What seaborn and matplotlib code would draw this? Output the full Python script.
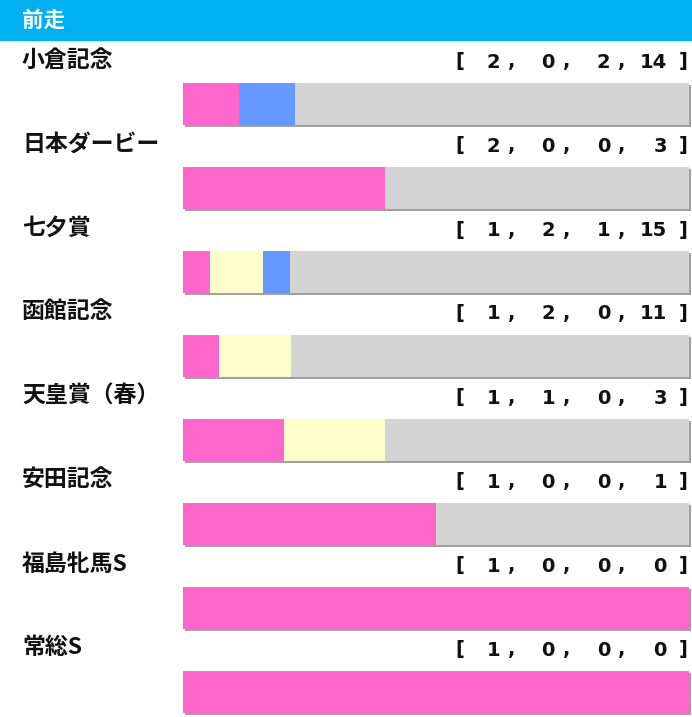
import numpy as np
import pandas as pd
import seaborn as sns
import matplotlib.pyplot as plt
from matplotlib import patheffects as pe

races = ['小倉記念', '日本ダービー', '七夕賞', '函館記念', '天皇賞（春）', '安田記念', '福島牝馬S', '常総S']
first = [2, 2, 1, 1, 1, 1, 1, 1]
second = [0, 0, 2, 2, 1, 0, 0, 0]
third = [2, 0, 1, 0, 0, 0, 0, 0]
other = [14, 3, 15, 11, 3, 1, 0, 0]

colors = {'1着': '#FF66CC', '2着': '#FFFFCC', '3着': '#6699FF', '着外': '#D3D3D3'}

sns.set_theme(style='white')
plt.rcParams['font.family'] = ['Noto Sans CJK JP', 'DejaVu Sans']

W, H = 692, 717
fig = plt.figure(figsize=(W / 100, H / 100), dpi=100)
ax = fig.add_axes([0, 0, 1, 1])

df = pd.DataFrame({'race': races, '1着': first, '2着': second, '3着': third, '着外': other})
tot = df[['1着', '2着', '3着', '着外']].sum(axis=1)
# cumulative shares, widest first so the narrower ones sit on top
cum = {
    '着外': (df['1着'] + df['2着'] + df['3着'] + df['着外']) / tot,
    '3着': (df['1着'] + df['2着'] + df['3着']) / tot,
    '2着': (df['1着'] + df['2着']) / tot,
    '1着': df['1着'] / tot,
}

x0, x1 = 183, 689  # bar span in pixels
row0, step = 104, 84  # first bar centre, row spacing
for k in ['着外', '3着', '2着', '1着']:
    sns.barplot(x=cum[k].values, y=df['race'], orient='h', color=colors[k],
                width=42 / step, saturation=1, ax=ax, linewidth=0)
    if k == '着外':
        for p in ax.patches:
            p.set_path_effects([pe.SimplePatchShadow(offset=(1.5, -1.5), shadow_rgbFace='#A0A0A0', alpha=1),
                                pe.Normal()])

ax.set_xlim(-x0 / (x1 - x0), (W - x0) / (x1 - x0))
ax.set_ylim((H - row0) / step, -row0 / step)
ax.axis('off')

# header band
fig.patches.append(plt.Rectangle((0, 1 - 40 / H), 1, 40 / H, transform=fig.transFigure,
                                 color='#00B0F0', zorder=0))
fig.text(22 / W, 1 - 20 / H, '前走', color='white', fontsize=15.5, fontweight='bold', va='center')

num_x = [500, 555, 610, 667]
for i, r in enumerate(races):
    yl = 1 - (row0 - 44 + step * i) / H
    fig.text(22 / W, yl, r, fontsize=16.5, fontweight='bold', va='center', color='#111111')
    yn = 1 - (row0 - 42 + step * i) / H
    fig.text(455 / W, yn, '[', fontsize=14, fontweight='bold', va='center',
             family='DejaVu Sans', color='#111111')
    vals = [first[i], second[i], third[i], other[i]]
    for j, v in enumerate(vals):
        fig.text(num_x[j] / W, yn, str(v), fontsize=14, fontweight='bold', va='center', ha='right',
                 family='DejaVu Sans', color='#111111')
        if j < 3:
            fig.text((num_x[j] + 8) / W, yn, ',', fontsize=14, fontweight='bold', va='center',
                     family='DejaVu Sans', color='#111111')
    fig.text(679 / W, yn, ']', fontsize=14, fontweight='bold', va='center',
             family='DejaVu Sans', color='#111111')

fig.savefig('out.png', dpi=100)
